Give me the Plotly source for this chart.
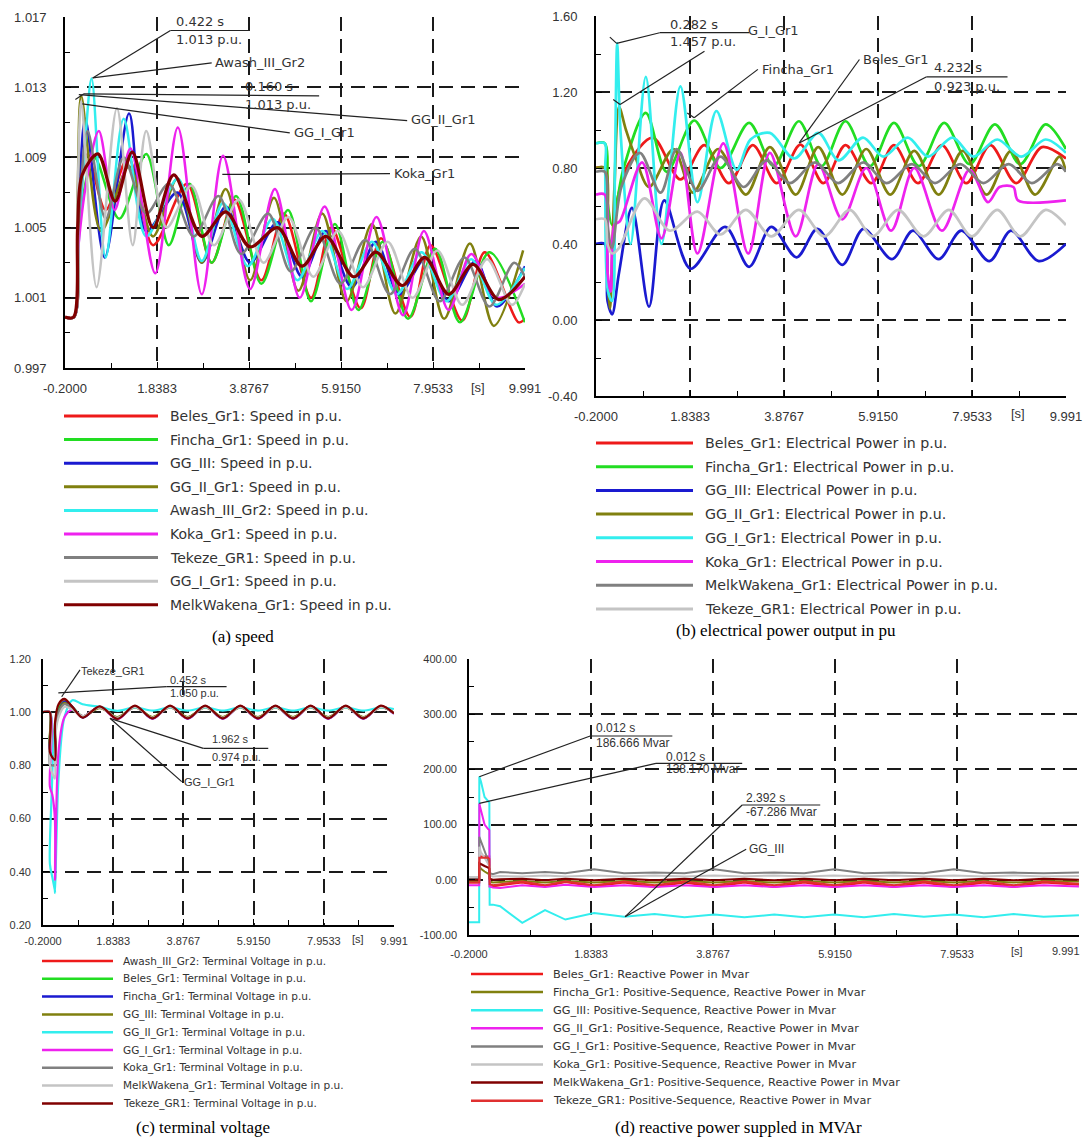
import plotly.graph_objects as go

W, H = 1083, 1137

# ===================== DATA =====================
# common time-axis ticks [s]
x_tickvals = [-0.2, 1.8383, 3.8767, 5.915, 7.9533, 9.991]
x_ticktext = ["-0.2000", "1.8383", "3.8767", "5.9150", "7.9533", "9.991"]
x_minor = [0.81915, 2.85745, 4.89585, 6.93415, 8.97215]

# ---- (a) speed, p.u. ----
a_yticks = [0.997, 1.001, 1.005, 1.009, 1.013, 1.017]
a_ytext = ["0.997", "1.001", "1.005", "1.009", "1.013", "1.017"]
a_yminor = [0.999, 1.003, 1.007, 1.011, 1.015]

a_beles_t = [-0.2, 0.0, 0.1, 0.3, 0.7, 1.2, 1.75, 2.5, 3.05, 3.55, 4.15, 4.65, 5.25, 5.7, 6.35, 6.8, 7.45, 7.9, 8.6, 9.1, 9.85, 9.99]
a_beles_v = [0.9999, 0.9999, 1.0050, 1.0092, 1.0060, 1.0090, 1.0040, 1.0075, 1.0030, 1.0066, 1.0020, 1.0058, 1.0010, 1.0050, 1.0004, 1.0044, 0.9999, 1.0040, 0.9997, 1.0036, 0.9996, 0.9998]
a_fincha_t = [-0.2, 0.0, 0.1, 0.45, 1.0, 1.6, 2.1, 2.56, 3.05, 3.59, 4.15, 4.74, 5.25, 5.78, 6.3, 6.84, 7.4, 8.0, 8.55, 9.2, 9.99]
a_fincha_v = [0.9999, 0.9999, 1.0050, 1.0090, 1.0055, 1.0092, 1.0040, 1.0075, 1.0030, 1.0068, 1.0018, 1.0060, 1.0008, 1.0052, 1.0003, 1.0042, 0.9998, 1.0038, 0.9996, 1.0036, 0.9996]
a_gg3_t = [-0.2, 0.0, 0.1, 0.25, 0.68, 1.22, 1.6, 2.29, 2.83, 3.36, 3.9, 4.51, 5.05, 5.58, 6.15, 6.69, 7.2, 7.8, 8.3, 8.9, 9.37, 9.99]
a_gg3_v = [0.9999, 0.9999, 1.0060, 1.0112, 1.0033, 1.0115, 1.0048, 1.0070, 1.0030, 1.0062, 1.0030, 1.0053, 1.0022, 1.0048, 1.0016, 1.0042, 1.0012, 1.0033, 1.0008, 1.0031, 1.0005, 1.0028]
a_gg2_t = [-0.2, 0.0, 0.08, 0.16, 0.6, 1.22, 1.75, 2.29, 2.83, 3.36, 3.9, 4.43, 4.97, 5.5, 6.04, 6.6, 7.12, 7.69, 8.2, 8.77, 9.3, 9.95]
a_gg2_v = [0.9999, 0.9999, 1.0070, 1.0125, 1.0048, 1.0085, 1.0045, 1.0078, 1.0030, 1.0072, 1.0020, 1.0067, 1.0014, 1.0058, 1.0008, 1.0052, 1.0001, 1.0045, 0.9998, 1.0041, 0.9994, 1.0037]
a_awash_t = [-0.2, 0.0, 0.1, 0.25, 0.39, 0.7, 1.1, 1.6, 2.3, 2.83, 3.3, 3.85, 4.4, 4.95, 5.5, 6.05, 6.6, 7.15, 7.7, 8.25, 8.8, 9.35, 9.99]
a_awash_v = [0.9999, 0.9999, 1.0040, 1.0100, 1.0135, 1.0033, 1.0112, 1.0045, 1.0078, 1.0031, 1.0064, 1.0028, 1.0055, 1.0020, 1.0048, 1.0015, 1.0042, 1.0012, 1.0036, 1.0008, 1.0032, 1.0006, 1.0027]
a_koka_t = [-0.2, 0.0, 0.1, 0.3, 0.55, 0.9, 1.25, 1.8, 2.3, 2.83, 3.3, 3.9, 4.45, 5.0, 5.55, 6.15, 6.7, 7.29, 7.75, 8.3, 8.8, 9.35, 9.99]
a_koka_v = [0.9999, 0.9999, 1.0040, 1.0080, 1.0105, 1.0060, 1.0095, 1.0024, 1.0107, 1.0012, 1.0091, 1.0015, 1.0072, 1.0010, 1.0062, 1.0003, 1.0056, 1.0000, 1.0048, 1.0003, 1.0035, 1.0010, 1.0018]
a_tekeze_t = [-0.2, 0.0, 0.1, 0.3, 0.7, 1.1, 1.6, 2.1, 2.65, 3.2, 3.7, 4.3, 4.8, 5.35, 5.9, 6.45, 7.0, 7.55, 8.1, 8.65, 9.2, 9.75, 9.99]
a_tekeze_v = [0.9999, 0.9999, 1.0050, 1.0105, 1.0055, 1.0090, 1.0058, 1.0075, 1.0045, 1.0068, 1.0035, 1.0058, 1.0025, 1.0050, 1.0018, 1.0043, 1.0012, 1.0038, 1.0008, 1.0033, 1.0005, 1.0030, 1.0022]
a_gg1_t = [-0.2, 0.0, 0.08, 0.16, 0.5, 0.95, 1.3, 1.6, 2.05, 2.6, 3.1, 3.65, 4.2, 4.75, 5.3, 5.85, 6.4, 6.95, 7.5, 8.05, 8.6, 9.15, 9.7, 9.99]
a_gg1_v = [0.9999, 0.9999, 1.0070, 1.0122, 1.0016, 1.0118, 1.0040, 1.0105, 1.0050, 1.0074, 1.0040, 1.0066, 1.0030, 1.0056, 1.0022, 1.0048, 1.0016, 1.0042, 1.0010, 1.0037, 1.0006, 1.0032, 1.0006, 1.0018]
a_melk_t = [-0.2, -0.01, 0.08, 0.18, 0.53, 0.91, 1.29, 1.75, 2.21, 2.83, 3.36, 3.90, 4.51, 5.05, 5.58, 6.20, 6.69, 7.27, 7.77, 8.30, 8.84, 9.41, 9.99]
a_melk_v = [0.9999, 0.9999, 1.0050, 1.0080, 1.0092, 1.0065, 1.0093, 1.0050, 1.0080, 1.0045, 1.0059, 1.0039, 1.0050, 1.0028, 1.0045, 1.0022, 1.0036, 1.0017, 1.0033, 1.0012, 1.0029, 1.0009, 1.0022]

a_names = ["Beles_Gr1: Speed in p.u.", "Fincha_Gr1: Speed in p.u.", "GG_III: Speed in p.u.",
           "GG_II_Gr1: Speed in p.u.", "Awash_III_Gr2: Speed in p.u.", "Koka_Gr1: Speed in p.u.",
           "Tekeze_GR1: Speed in p.u.", "GG_I_Gr1: Speed in p.u.", "MelkWakena_Gr1: Speed in p.u."]

# ---- (b) electrical power, p.u. ----
b_yticks = [-0.4, 0.0, 0.4, 0.8, 1.2, 1.6]
b_ytext = ["-0.40", "0.00", "0.40", "0.80", "1.20", "1.60"]
b_yminor = [-0.2, 0.2, 0.6, 1.0, 1.4]

b_beles_t = [-0.2, -0.01, 0.05, 0.12, 0.25, 0.5, 1.03, 1.63, 2.15, 2.68, 3.2, 3.72, 4.232, 4.73, 5.21, 5.77, 6.26, 6.78, 7.3, 7.83, 8.35, 8.91, 9.47, 9.99]
b_beles_v = [0.80, 0.80, 0.45, 0.36, 0.62, 0.82, 0.96, 0.74, 0.92, 0.72, 0.92, 0.72, 0.923, 0.72, 0.92, 0.72, 0.92, 0.72, 0.92, 0.72, 0.92, 0.72, 0.91, 0.85]
b_fincha_t = [-0.2, -0.01, 0.05, 0.15, 0.4, 0.88, 1.33, 1.93, 2.5, 3.12, 3.65, 4.2, 4.69, 5.21, 5.74, 6.26, 6.8, 7.35, 7.9, 8.45, 9.0, 9.55, 9.99]
b_fincha_v = [0.93, 0.93, 0.62, 0.50, 0.80, 1.09, 0.78, 1.05, 0.80, 1.037, 0.81, 1.046, 0.81, 1.046, 0.81, 1.037, 0.81, 1.037, 0.82, 1.03, 0.82, 1.03, 0.90]
b_gg3_t = [-0.2, -0.01, 0.05, 0.15, 0.3, 0.58, 0.95, 1.28, 1.85, 2.6, 3.12, 3.6, 4.15, 4.6, 5.14, 5.6, 6.22, 6.67, 7.23, 7.72, 8.33, 8.8, 9.4, 9.99]
b_gg3_v = [0.40, 0.40, 0.10, 0.03, 0.25, 0.59, 0.07, 0.63, 0.27, 0.49, 0.28, 0.49, 0.33, 0.48, 0.29, 0.48, 0.32, 0.47, 0.32, 0.47, 0.31, 0.47, 0.31, 0.40]
b_gg2_t = [-0.2, -0.01, 0.03, 0.1, 0.2, 0.30, 0.45, 0.65, 0.95, 1.48, 1.9, 2.45, 3.05, 3.57, 4.13, 4.62, 5.14, 5.66, 6.18, 6.7, 7.23, 7.75, 8.27, 8.8, 9.32, 9.85, 9.99]
b_gg2_v = [0.80, 0.80, 0.30, 0.06, 0.70, 1.12, 1.00, 0.86, 0.70, 0.90, 0.67, 0.90, 0.66, 0.91, 0.66, 0.91, 0.66, 0.90, 0.66, 0.89, 0.66, 0.89, 0.66, 0.89, 0.66, 0.86, 0.78]
b_gg1_t = [-0.2, -0.01, 0.0, 0.06, 0.15, 0.21, 0.26, 0.33, 0.55, 0.88, 1.22, 1.63, 2.0, 2.41, 2.85, 3.15, 3.57, 4.1, 4.62, 5.06, 5.59, 6.03, 6.56, 7.0, 7.53, 7.98, 8.5, 9.02, 9.55, 9.99]
b_gg1_v = [0.93, 0.93, 0.80, 0.15, 0.10, 0.80, 1.457, 1.00, 0.40, 1.28, 0.40, 1.23, 0.62, 1.10, 0.79, 0.95, 0.985, 0.85, 0.985, 0.84, 0.96, 0.86, 0.96, 0.86, 0.96, 0.86, 0.95, 0.86, 0.95, 0.88]
b_koka_t = [-0.2, -0.01, 0.05, 0.12, 0.2, 0.32, 0.8, 1.22, 1.63, 2.0, 2.56, 3.1, 3.57, 4.13, 4.62, 5.14, 5.66, 6.2, 6.7, 7.3, 7.9, 8.3, 8.55, 8.85, 8.95, 9.99]
b_koka_v = [0.66, 0.66, 0.25, 0.15, 0.50, 0.52, 0.83, 0.43, 0.88, 0.35, 0.93, 0.35, 0.88, 0.44, 0.82, 0.53, 0.80, 0.47, 0.80, 0.47, 0.79, 0.62, 0.70, 0.70, 0.63, 0.63]
b_melk_t = [-0.2, -0.01, 0.05, 0.15, 0.35, 0.75, 1.2, 1.55, 2.0, 2.5, 3.0, 3.5, 4.0, 4.55, 5.05, 5.6, 6.1, 6.65, 7.15, 7.7, 8.2, 8.75, 9.25, 9.8, 9.99]
b_melk_v = [0.78, 0.78, 0.50, 0.38, 0.70, 0.88, 0.67, 0.90, 0.68, 0.86, 0.70, 0.84, 0.72, 0.83, 0.72, 0.83, 0.72, 0.82, 0.72, 0.82, 0.72, 0.82, 0.72, 0.82, 0.78]
b_tekeze_t = [-0.2, -0.01, 0.05, 0.15, 0.3, 0.85, 1.4, 2.0, 2.5, 3.05, 3.6, 4.2, 4.75, 5.3, 5.8, 6.35, 6.9, 7.45, 7.95, 8.5, 9.0, 9.55, 9.99]
b_tekeze_v = [0.53, 0.53, 0.40, 0.35, 0.38, 0.64, 0.47, 0.57, 0.45, 0.58, 0.44, 0.58, 0.44, 0.58, 0.44, 0.58, 0.44, 0.58, 0.44, 0.58, 0.44, 0.58, 0.50]

b_names = ["Beles_Gr1: Electrical Power in p.u.", "Fincha_Gr1: Electrical Power in p.u.",
           "GG_III: Electrical Power in p.u.", "GG_II_Gr1: Electrical Power in p.u.",
           "GG_I_Gr1: Electrical Power in p.u.", "Koka_Gr1: Electrical Power in p.u.",
           "MelkWakena_Gr1: Electrical Power in p.u.", "Tekeze_GR1: Electrical Power in p.u."]

# ---- (c) terminal voltage, p.u. ----
c_yticks = [0.2, 0.4, 0.6, 0.8, 1.0, 1.2]
c_ytext = ["0.20", "0.40", "0.60", "0.80", "1.00", "1.20"]
c_yminor = [0.3, 0.5, 0.7, 0.9, 1.1]

c_t = [-0.2, -0.005, 0.0, 0.07, 0.145, 0.15, 0.25, 0.42, 0.65, 0.95, 1.45, 1.96, 2.47, 2.98, 3.49, 4.0, 4.51, 5.02, 5.53, 6.04, 6.55, 7.06, 7.57, 8.08, 8.59, 9.1, 9.61, 9.99]
c_awash_v = [1.0, 1.0, 0.86, 0.84, 0.83, 0.95, 1.02, 1.045, 1.02, 0.98, 1.02, 0.977, 1.023, 0.978, 1.023, 0.978, 1.023, 0.978, 1.023, 0.978, 1.023, 0.978, 1.023, 0.978, 1.023, 0.978, 1.023, 0.996]
c_beles_v = [1.0, 1.0, 0.87, 0.86, 0.86, 0.94, 1.01, 1.04, 1.02, 0.985, 1.018, 0.98, 1.02, 0.98, 1.02, 0.98, 1.02, 0.98, 1.02, 0.98, 1.02, 0.98, 1.02, 0.98, 1.02, 0.98, 1.02, 0.997]
c_fincha_v = [1.0, 1.0, 0.86, 0.85, 0.85, 0.93, 1.0, 1.04, 1.02, 0.98, 1.02, 0.976, 1.022, 0.976, 1.022, 0.976, 1.022, 0.976, 1.022, 0.976, 1.022, 0.976, 1.022, 0.976, 1.022, 0.976, 1.022, 0.995]
c_gg3_v = [1.0, 1.0, 0.88, 0.87, 0.87, 0.94, 1.0, 1.035, 1.015, 0.985, 1.015, 0.982, 1.018, 0.982, 1.018, 0.982, 1.018, 0.982, 1.018, 0.982, 1.018, 0.982, 1.018, 0.982, 1.018, 0.982, 1.018, 0.998]
c_gg2_v = [1.0, 1.0, 0.43, 0.38, 0.33, 0.32, 0.75, 0.98, 1.045, 1.03, 1.02, 1.005, 1.018, 1.006, 1.018, 1.006, 1.018, 1.006, 1.018, 1.006, 1.018, 1.006, 1.018, 1.006, 1.018, 1.006, 1.018, 1.012]
c_gg1_v = [1.0, 1.0, 0.72, 0.69, 0.60, 0.37, 0.85, 0.98, 1.01, 0.985, 1.02, 0.974, 1.022, 0.976, 1.022, 0.976, 1.022, 0.976, 1.022, 0.976, 1.022, 0.976, 1.022, 0.976, 1.022, 0.976, 1.022, 0.995]
c_koka_v = [1.0, 1.0, 0.80, 0.80, 0.80, 0.94, 1.0, 1.03, 1.015, 0.985, 1.02, 0.978, 1.022, 0.978, 1.022, 0.978, 1.022, 0.978, 1.022, 0.978, 1.022, 0.978, 1.022, 0.978, 1.022, 0.978, 1.022, 0.996]
c_melk_v = [1.0, 1.0, 0.80, 0.77, 0.75, 0.90, 0.98, 1.02, 1.01, 0.985, 1.018, 0.979, 1.02, 0.979, 1.02, 0.979, 1.02, 0.979, 1.02, 0.979, 1.02, 0.979, 1.02, 0.979, 1.02, 0.979, 1.02, 0.997]
c_tekeze_v = [1.0, 1.0, 0.85, 0.83, 0.82, 0.96, 1.03, 1.05, 1.02, 0.98, 1.022, 0.975, 1.025, 0.977, 1.025, 0.977, 1.025, 0.977, 1.025, 0.977, 1.025, 0.977, 1.025, 0.977, 1.025, 0.977, 1.025, 0.995]

c_names = ["Awash_III_Gr2: Terminal Voltage in p.u.", "Beles_Gr1: Terminal Voltage in p.u.",
           "Fincha_Gr1: Terminal Voltage in p.u.", "GG_III: Terminal Voltage in p.u.",
           "GG_II_Gr1: Terminal Voltage in p.u.", "GG_I_Gr1: Terminal Voltage in p.u.",
           "Koka_Gr1: Terminal Voltage in p.u.", "MelkWakena_Gr1: Terminal Voltage in p.u.",
           "Tekeze_GR1: Terminal Voltage in p.u."]

# ---- (d) reactive power, Mvar ----
d_yticks = [-100, 0, 100, 200, 300, 400]
d_ytext = ["-100.00", "0.00", "100.00", "200.00", "300.00", "400.00"]
d_yminor = [-50, 50, 150, 250, 350]
d_xticktext = ["-0.2000", "1.8383", "3.8767", "5.9150", "7.9533", ""]

d_t = [-0.2, -0.03, -0.028, 0.0, 0.06, 0.12, 0.14, 0.145, 0.2, 0.32, 0.69, 1.07, 1.41, 1.89, 2.39, 2.9, 3.4, 3.9, 4.4, 4.9, 5.4, 5.9, 6.4, 6.9, 7.4, 7.9, 8.4, 8.9, 9.4, 9.99]
d_beles_v = [-5, -5, 42, 42, 42, 42, 42, -12, -12, -10, -5, -12, -4, -12, -5, -13, -5, -13, -5, -13, -5, -13, -5, -13, -5, -13, -5, -13, -5, -9]
d_fincha_v = [-3, -3, 25, 20, 15, 12, 10, -3, -5, -4, -2, -5, -2, -5, -2, -5, -2, -5, -2, -5, -2, -5, -2, -5, -2, -5, -2, -5, -2, -3]
d_gg3_v = [-77, -77, 187, 178, 150, 142, 140, -45, -45, -48, -78, -55, -72, -60, -67, -62, -68, -63, -68, -63, -68, -63, -68, -62, -67, -63, -68, -62, -67, -64]
d_gg2_v = [-10, -10, 138, 125, 100, 92, 90, -12, -14, -15, -10, -13, -9, -13, -10, -13, -10, -13, -10, -13, -10, -13, -10, -13, -10, -13, -10, -13, -10, -12]
d_gg1_v = [2, 2, 78, 70, 50, 35, 25, 12, 10, 14, 12, 14, 12, 19, 12, 13, 12, 19, 12, 13, 12, 19, 12, 13, 12, 19, 12, 13, 12, 13]
d_koka_v = [5, 5, 60, 50, 40, 30, 25, 8, 6, 7, 6, 8, 6, 8, 6, 8, 6, 8, 6, 8, 6, 8, 6, 8, 6, 8, 6, 8, 6, 7]
d_melk_v = [0, 0, 30, 28, 25, 22, 20, 2, 0, 1, 2, -1, 2, -1, 2, -1, 2, -1, 2, -1, 2, -1, 2, -1, 2, -1, 2, -1, 2, 0]
d_tekeze_v = [-5, -5, 40, 40, 40, 40, 38, -8, -10, -8, -3, -10, -3, -10, -3, -10, -3, -10, -3, -10, -3, -10, -3, -10, -3, -10, -3, -10, -3, -7]

d_names = ["Beles_Gr1: Reactive Power in Mvar", "Fincha_Gr1: Positive-Sequence, Reactive Power in Mvar",
           "GG_III: Positive-Sequence, Reactive Power in Mvar", "GG_II_Gr1: Positive-Sequence, Reactive Power in Mvar",
           "GG_I_Gr1: Positive-Sequence, Reactive Power in Mvar", "Koka_Gr1: Positive-Sequence, Reactive Power in Mvar",
           "MelkWakena_Gr1: Positive-Sequence, Reactive Power in Mvar", "Tekeze_GR1: Positive-Sequence, Reactive Power in Mvar"]

# ===================== STYLE =====================
RED = "#ee1a1a"
GREEN = "#22dd22"
BLUE = "#1a1ad0"
OLIVE = "#80800f"
CYAN = "#33eeee"
MAGENTA = "#ee22ee"
GRAY = "#808080"
LGRAY = "#c4c4c4"
DRED = "#800000"
RED2 = "#e03030"
SANS = "Liberation Sans, Arial, sans-serif"
WIDE = "DejaVu Sans, Liberation Sans, sans-serif"
SERIF = "Liberation Serif, Times New Roman, serif"
TXT = "#333333"


def px(x):
    return x / W


def py(y):
    return 1 - y / H


fig = go.Figure()


def add_line(t, v, color, width, ax, shape="spline"):
    fig.add_trace(go.Scatter(
        x=t, y=v, mode="lines",
        line=dict(color=color, width=width, shape=shape, smoothing=0.9 if shape == "spline" else None),
        xaxis="x" + ax, yaxis="y" + ax, showlegend=False, hoverinfo="skip"))


# (a)
a_series = [(a_beles_t, a_beles_v, RED), (a_fincha_t, a_fincha_v, GREEN), (a_gg3_t, a_gg3_v, BLUE),
            (a_gg2_t, a_gg2_v, OLIVE), (a_awash_t, a_awash_v, CYAN), (a_koka_t, a_koka_v, MAGENTA),
            (a_tekeze_t, a_tekeze_v, GRAY), (a_gg1_t, a_gg1_v, LGRAY), (a_melk_t, a_melk_v, DRED)]
for t, v, c in a_series:
    add_line(t, v, c, 3.2 if c == DRED else 2.5, "")

# (b)
b_series = [(b_beles_t, b_beles_v, RED), (b_fincha_t, b_fincha_v, GREEN), (b_gg3_t, b_gg3_v, BLUE),
            (b_gg2_t, b_gg2_v, OLIVE), (b_gg1_t, b_gg1_v, CYAN), (b_koka_t, b_koka_v, MAGENTA),
            (b_melk_t, b_melk_v, GRAY), (b_tekeze_t, b_tekeze_v, LGRAY)]
for t, v, c in b_series:
    add_line(t, v, c, 2.7, "2")

# (c)
c_series = [(c_awash_v, RED), (c_beles_v, GREEN), (c_fincha_v, BLUE), (c_gg3_v, OLIVE),
            (c_gg2_v, CYAN), (c_gg1_v, MAGENTA), (c_koka_v, GRAY), (c_melk_v, LGRAY), (c_tekeze_v, DRED)]
for v, c in c_series:
    add_line(c_t, v, c, 2.2, "3")

# (d)
d_series = [(d_beles_v, RED), (d_fincha_v, OLIVE), (d_gg3_v, CYAN), (d_gg2_v, MAGENTA),
            (d_gg1_v, GRAY), (d_koka_v, LGRAY), (d_melk_v, DRED), (d_tekeze_v, RED2)]
for v, c in d_series:
    add_line(d_t, v, c, 2.0, "4", shape="linear")

# ===================== AXES =====================
GRIDC = "#1a1a1a"
DASH = "14px,8px"


def xaxis(x0, x1, anchor, size, standoff, ttext):
    return dict(domain=[px(x0), px(x1)], anchor=anchor, range=[-0.2, 9.991], automargin=False,
                tickmode="array", tickvals=x_tickvals, ticktext=ttext,
                ticklabeloverflow="allow",
                showgrid=True, gridcolor=GRIDC, gridwidth=1.6, griddash=DASH,
                showline=True, linecolor="black", linewidth=1.6, mirror=False,
                ticks="inside", ticklen=6, tickwidth=1.3, tickcolor="black",
                minor=dict(tickvals=x_minor, ticks="inside", ticklen=5, tickwidth=1.3,
                           tickcolor="black", showgrid=False),
                zeroline=False, tickfont=dict(family=SANS, size=size, color=TXT),
                ticklabelstandoff=standoff, fixedrange=True)


def yaxis(y0, y1, anchor, rng, tv, tt, mv, size, standoff):
    return dict(domain=[py(y1), py(y0)], anchor=anchor, range=rng, automargin=False,
                tickmode="array", tickvals=tv, ticktext=tt,
                ticklabeloverflow="allow",
                showgrid=True, gridcolor=GRIDC, gridwidth=1.6, griddash=DASH,
                showline=True, linecolor="black", linewidth=1.6, mirror=False,
                ticks="inside", ticklen=6, tickwidth=1.3, tickcolor="black",
                minor=dict(tickvals=mv, ticks="inside", ticklen=5, tickwidth=1.3,
                           tickcolor="black", showgrid=False),
                zeroline=False, tickfont=dict(family=SANS, size=size, color=TXT),
                ticklabelstandoff=standoff, fixedrange=True)


fig.update_layout(
    width=W, height=H, margin=dict(l=0, r=0, t=0, b=0, autoexpand=False),
    paper_bgcolor="white", plot_bgcolor="white", showlegend=False,
    xaxis=xaxis(65, 525, "y", 13, 8, x_ticktext),
    yaxis=yaxis(17, 368, "x", [0.997, 1.017], a_yticks, a_ytext, a_yminor, 13, 14),
    xaxis2=xaxis(596, 1066, "y2", 13, 8, x_ticktext),
    yaxis2=yaxis(16, 396, "x2", [-0.4, 1.6], b_yticks, b_ytext, b_yminor, 13, 14),
    xaxis3=xaxis(43, 394, "y3", 11, 5, x_ticktext),
    yaxis3=yaxis(659, 925, "x3", [0.2, 1.2], c_yticks, c_ytext, c_yminor, 11, 8),
    xaxis4=xaxis(469, 1079, "y4", 11, 8, d_xticktext),
    yaxis4=yaxis(659, 935, "x4", [-100, 400], d_yticks, d_ytext, d_yminor, 11, 8),
)

# "[s]" unit labels
for ax, yy, sz in [("x", 387, 13), ("x2", 413, 13), ("x3", 939, 11), ("x4", 951, 11)]:
    fig.add_annotation(x=8.95, y=py(yy), xref=ax, yref="paper", text="[s]", showarrow=False,
                       font=dict(family=SANS, size=sz, color=TXT), xanchor="center", yanchor="middle")

# last tick label of (d), kept fully inside the page
fig.add_annotation(x=px(1082), y=py(951), xref="paper", yref="paper", text=x_ticktext[-1], showarrow=False,
                   font=dict(family=SANS, size=11, color=TXT), xanchor="right", yanchor="middle")

# ===================== ANNOTATIONS (labels + leader lines) =====================
LC = "#222222"


def seg(ax, x0, y0, x1, y1):
    fig.add_shape(type="line", xref="x" + ax, yref="y" + ax, x0=x0, y0=y0, x1=x1, y1=y1,
                  line=dict(color=LC, width=1.2))


def lab(ax, x, y, text, size=13, family=WIDE):
    fig.add_annotation(x=x, y=y, xref="x" + ax, yref="y" + ax, text=text, showarrow=False,
                       xanchor="left", yanchor="middle", font=dict(family=family, size=size, color=TXT))


# (a)
seg("", 0.413, 1.01353, 2.136, 1.01623)
seg("", 2.136, 1.01623, 3.898, 1.01623)
lab("", 2.22, 1.01676, "0.422 s")
lab("", 2.22, 1.01571, "1.013 p.u.")
seg("", 0.413, 1.01353, 3.05, 1.01439)
lab("", 3.07, 1.01439, "Awash_III_Gr2")
seg("", 0.03, 1.0123, 0.22, 1.01262)
seg("", 0.22, 1.01262, 5.43, 1.0125)
lab("", 3.75, 1.01306, "0.160 s")
lab("", 3.75, 1.01201, "1.013 p.u.")
seg("", 0.106, 1.01258, 7.38, 1.0111)
lab("", 7.42, 1.01115, "GG_II_Gr1")
seg("", 0.183, 1.01205, 4.78, 1.0104)
lab("", 4.82, 1.0104, "GG_I_Gr1")
seg("", 3.285, 1.00803, 7.0, 1.00807)
lab("", 7.04, 1.0081, "Koka_Gr1")

# (b)
seg("2", 0.10, 1.489, 0.248, 1.456)
seg("2", 0.248, 1.456, 1.181, 1.512)
seg("2", 1.181, 1.512, 3.123, 1.512)
lab("2", 1.368, 1.556, "0.282 s")
lab("2", 1.368, 1.468, "1.457 p.u.")
lab("2", 3.06, 1.525, "G_I_Gr1")
seg("2", 0.173, 1.160, 0.323, 1.134)
seg("2", 0.323, 1.134, 2.152, 1.415)
seg("2", 1.779, 1.09, 1.928, 1.064)
seg("2", 1.928, 1.064, 3.31, 1.319)
lab("2", 3.347, 1.319, "Fincha_Gr1")
seg("2", 4.206, 0.932, 5.512, 1.371)
lab("2", 5.55, 1.371, "Beles_Gr1")
seg("2", 4.206, 0.932, 6.968, 1.28)
seg("2", 6.968, 1.28, 8.723, 1.28)
lab("2", 7.08, 1.327, "4.232 s")
lab("2", 7.08, 1.231, "0.923 p.u.")

# (c)
seg("3", 0.342, 1.058, 0.874, 1.159)
lab("3", 0.854, 1.156, "Tekeze_GR1", 11, SANS)
seg("3", 0.245, 1.073, 3.39, 1.096)
seg("3", 3.39, 1.096, 5.13, 1.096)
lab("3", 3.44, 1.121, "0.452 s", 11, SANS)
lab("3", 3.44, 1.071, "1.050 p.u.", 11, SANS)
seg("3", 1.745, 0.977, 4.455, 0.864)
seg("3", 4.455, 0.864, 6.34, 0.864)
lab("3", 4.65, 0.898, "1.962 s", 11, SANS)
lab("3", 4.65, 0.833, "0.974 p.u.", 11, SANS)
seg("3", 1.745, 0.977, 3.827, 0.739)
lab("3", 3.83, 0.739, "GG_I_Gr1", 11, SANS)

# (d)
seg("4", -0.028, 186.8, 1.825, 260.5)
seg("4", 1.825, 260.5, 3.197, 260.5)
lab("4", 1.893, 274.4, "0.012 s", 12, SANS)
lab("4", 1.893, 248.4, "186.666 Mvar", 12, SANS)
seg("4", -0.028, 138.6, 2.923, 211.0)
seg("4", 2.923, 211.0, 4.364, 211.0)
lab("4", 3.06, 223.0, "0.012 s", 12, SANS)
lab("4", 3.06, 200.0, "138.170 Mvar", 12, SANS)
seg("4", 2.408, -66.8, 4.364, 135.5)
seg("4", 4.364, 135.5, 5.668, 135.5)
lab("4", 4.40, 147.6, "2.392 s", 12, SANS)
lab("4", 4.40, 123.4, "-67.286 Mvar", 12, SANS)
seg("4", 2.408, -66.8, 4.43, 55.2)
lab("4", 4.446, 55.0, "GG_III", 12, SANS)

# ===================== MANUAL LEGENDS =====================


def legend(names, colors, x0, x1, xt, y0, dy, size, lw):
    for i, (n, c) in enumerate(zip(names, colors)):
        yy = y0 + i * dy
        fig.add_shape(type="line", xref="paper", yref="paper", x0=px(x0), x1=px(x1), y0=py(yy), y1=py(yy),
                      line=dict(color=c, width=lw))
        fig.add_annotation(x=px(xt), y=py(yy), xref="paper", yref="paper", text=n, showarrow=False,
                           xanchor="left", yanchor="middle", font=dict(family=WIDE, size=size, color=TXT))


legend(a_names, [s[2] for s in a_series], 64, 158, 168, 416, 23.6, 14, 3)
legend(b_names, [s[2] for s in b_series], 596, 693, 703, 443, 23.7, 14.2, 3)
legend(c_names, [s[1] for s in c_series], 42, 113, 121, 961, 17.8, 10.5, 2.5)
legend(d_names, [s[1] for s in d_series], 471, 543, 551, 974, 18.1, 11.3, 2.5)

# captions
for txt, xc, yc in [("(a) speed", 243, 636), ("(b) electrical power output in pu", 786, 630),
                    ("(c) terminal voltage", 203, 1127), ("(d) reactive power suppled in MVAr", 738, 1127)]:
    fig.add_annotation(x=px(xc), y=py(yc), xref="paper", yref="paper", text=txt, showarrow=False,
                       xanchor="center", yanchor="middle", font=dict(family=SERIF, size=17, color="black"))

fig.write_html("out.html")
